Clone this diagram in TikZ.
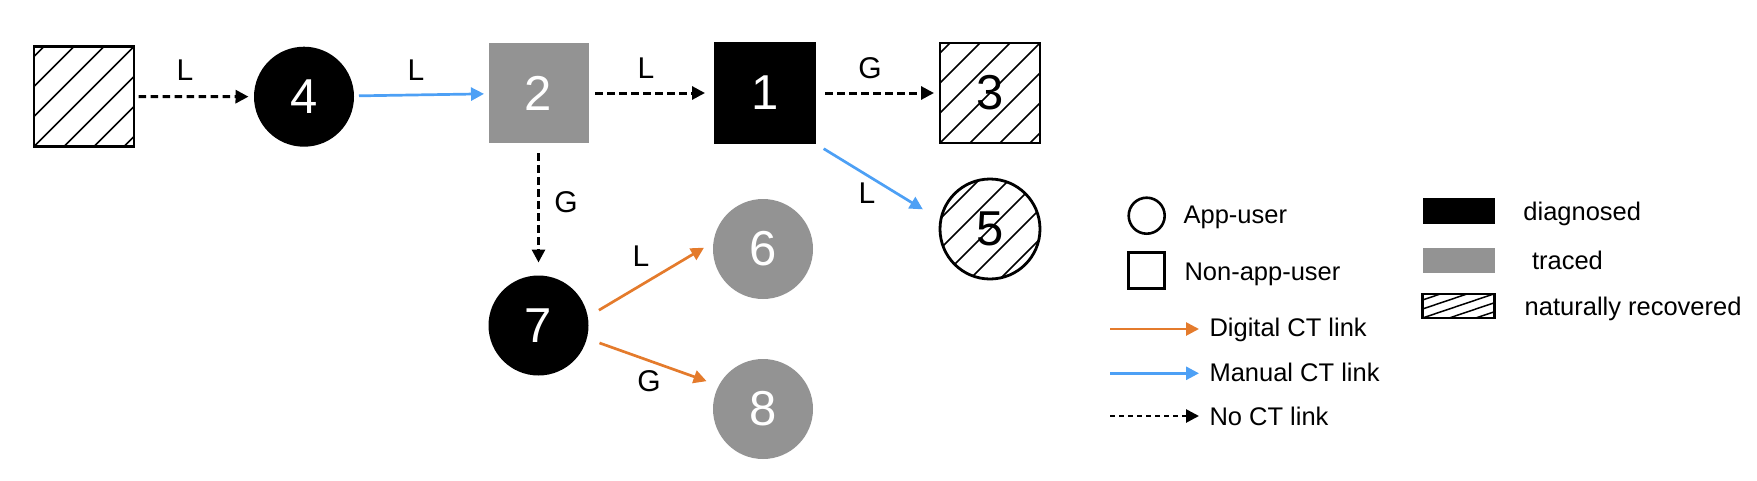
\documentclass[tikz,border=0pt]{standalone}
\usepackage{fontspec}
\setmainfont{Liberation Sans}
\usetikzlibrary{arrows.meta,calc}
\definecolor{ctgray}{RGB}{147,147,147}
\definecolor{ctblue}{RGB}{77,160,245}
\definecolor{ctorange}{RGB}{228,123,44}
\begin{document}
\begin{tikzpicture}[x=1pt,y=-1pt,
  every node/.style={inner sep=0pt, outer sep=0pt},
  numfont/.style={font=\fontsize{49}{50}\selectfont},
  sqnode/.style={rectangle, minimum size=100pt, numfont},
  cnode/.style={circle, minimum size=100pt, numfont},
  diag/.style={fill=black, text=white},
  tracedn/.style={fill=ctgray, text=white},
  hatch/.style={draw=black, line width=2.8pt, path picture={
    \foreach \k in {-4,...,4}{
      \draw[line width=1.6pt] ([xshift=\k*30pt]path picture bounding box.south west) -- ++(130pt,130pt);
    }}},
  leghatch/.style={draw=black, line width=2.8pt, path picture={
    \foreach \k in {-4,...,4}{
      \draw[line width=1.5pt] ([yshift=\k*9pt]path picture bounding box.south west) -- ++(80pt,27pt);
    }}},
  lbl/.style={font=\fontsize{30}{32}\selectfont},
  leg/.style={font=\fontsize{25.5}{28}\selectfont, anchor=base west},
  tip/.style={-{Triangle[length=13pt,width=13pt]}},
  nolink/.style={tip, line width=3pt, dash pattern=on 7.5pt off 4.5pt},
  manual/.style={tip, draw=ctblue, fill=ctblue, line width=2.7pt},
  digital/.style={tip, draw=ctorange, fill=ctorange, line width=2.7pt},
]
\useasboundingbox (0,0) rectangle (1757,480);

% nodes
\node[sqnode, hatch] (A) at (84,96.5) {};
\node[cnode, diag] (n4) at (304,96.7) {4};
\node[sqnode, tracedn] (n2) at (538.5,93) {2};
\node[sqnode, diag, minimum size=102pt] (n1) at (765,93) {1};
\node[sqnode, hatch] (n3) at (990,93) {3};
\node[cnode, hatch] (n5) at (990,229) {5};
\node[cnode, tracedn] (n6) at (763,249) {6};
\node[cnode, diag] (n7) at (538.5,325.5) {7};
\node[cnode, tracedn] (n8) at (763,409) {8};

% connectors
\draw[nolink, shorten <=4.5pt, shorten >=5.5pt] (A) -- (n4);
\draw[manual, shorten <=5pt, shorten >=4.5pt] (n4) -- (n2);
\draw[nolink, shorten <=6.5pt, shorten >=9pt] (n2) -- (n1);
\draw[nolink, shorten <=9pt, shorten >=6pt] (n1) -- (n3);
\draw[nolink, shorten <=10pt, shorten >=13pt] (n2) -- (n7);
\draw[manual, shorten <=9pt, shorten >=21pt] (n1.south east) -- (n5.170);
\draw[digital, shorten <=13pt, shorten >=11pt] (n7.10) -- (n6.172);
\draw[digital, shorten <=13.5pt, shorten >=13pt] (n7.-15) -- (n8.152);

% edge labels
\node[lbl] (lA4) at (185,70) {L};
\node[lbl] (l42) at (416,70) {L};
\node[lbl] (l21) at (646,68) {L};
\node[lbl] (l13) at (870,68) {G};
\node[lbl] (l15) at (867,193) {L};
\node[lbl] (l27) at (566,202) {G};
\node[lbl] (l76) at (641,256) {L};
\node[lbl] (l78) at (649,381) {G};

% legend
\node[circle, draw, line width=2.6pt, minimum size=36pt] (lcirc) at (1146.7,215.7) {};
\node[rectangle, draw, line width=2.6pt, minimum size=36pt] (lsq) at (1146.7,270.7) {};
\node[leg] (tapp) at (1183.6,223.3) {App-user};
\node[leg] (tnon) at (1184.5,280) {Non-app-user};

\coordinate (d1) at (1110,329);
\coordinate (d2) at (1199,329);
\coordinate (m1) at (1110,373.3);
\coordinate (m2) at (1199,373.3);
\coordinate (o1) at (1110,416);
\coordinate (o2) at (1199,416);
\draw[digital] (d1) -- (d2);
\draw[manual] (m1) -- (m2);
\draw[nolink, line width=2.7pt, dash pattern=on 5pt off 4pt] (o1) -- (o2);
\node[leg] (tdig) at (1209.5,336.7) {Digital CT link};
\node[leg] (tman) at (1209.5,381.7) {Manual CT link};
\node[leg] (tno) at (1209.5,425) {No CT link};

\node[rectangle, fill=black, minimum width=72pt, minimum height=26pt] (ldiag) at (1458.5,211) {};
\node[rectangle, fill=ctgray, minimum width=72pt, minimum height=25pt] (ltr) at (1458.5,260) {};
\node[rectangle, leghatch, minimum width=72pt, minimum height=24pt] (lhat) at (1458.5,306) {};
\node[leg] (tdiag) at (1523.4,220) {diagnosed};
\node[leg] (ttr) at (1532,269.3) {traced};
\node[leg] (tnat) at (1524.7,315.7) {naturally recovered};
\end{tikzpicture}
\end{document}
